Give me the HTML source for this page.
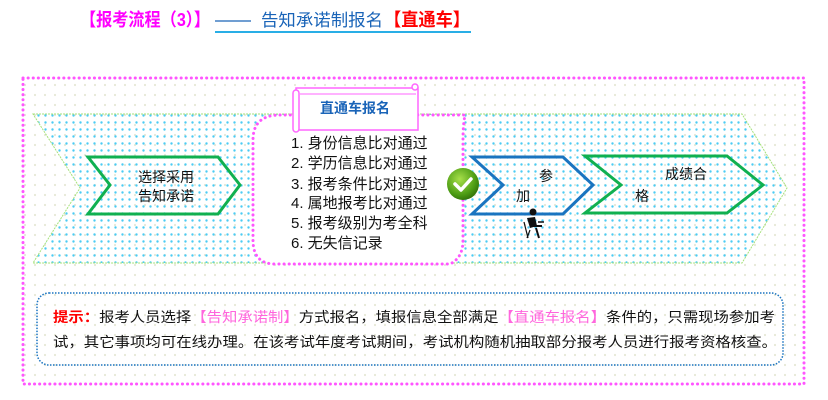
<!DOCTYPE html>
<html><head><meta charset="utf-8"><style>
html,body{margin:0;padding:0;background:#fff;}
svg{display:block;font-family:"Liberation Sans","Noto Sans CJK SC",sans-serif;}
</style></head><body>
<svg width="828" height="400" viewBox="0 0 828 400" xmlns="http://www.w3.org/2000/svg">
<defs>
<pattern id="bg" width="10" height="10" patternUnits="userSpaceOnUse"><circle cx="5" cy="5" r="1.1" fill="#e6e8d6"/></pattern>
<pattern id="cy" width="7" height="7" patternUnits="userSpaceOnUse"><circle cx="3.5" cy="3.5" r="1.2" fill="#4ccbf3"/></pattern>
<radialGradient id="gb" cx="0.4" cy="0.35" r="0.7"><stop offset="0" stop-color="#a8e04a"/><stop offset="0.7" stop-color="#4c9c14"/><stop offset="1" stop-color="#2f6e08"/></radialGradient>
</defs>

<!-- title -->
<text x="80" y="26" font-size="18" font-weight="bold" fill="#ff00ff" textLength="130" lengthAdjust="spacingAndGlyphs">【报考流程（3）】</text>
<line x1="215" y1="21" x2="251" y2="21" stroke="#1a64b8" stroke-width="1.3"/>
<text x="261" y="26" font-size="17" fill="#1a64b8" textLength="122" lengthAdjust="spacingAndGlyphs">告知承诺制报名</text>
<text x="384" y="26" font-size="18" font-weight="bold" fill="#ff0000" textLength="86" lengthAdjust="spacingAndGlyphs">【直通车】</text>
<line x1="215" y1="32" x2="471" y2="32" stroke="#29aee6" stroke-width="2"/>

<!-- outer box -->
<rect x="23" y="78" width="781" height="306" fill="url(#bg)"/>
<rect x="23" y="78" width="781" height="306" fill="none" stroke="#ff55ff" stroke-width="3" stroke-dasharray="0.1 5" stroke-linecap="round"/>

<!-- banner -->
<polygon points="33,114 742,114 787,188 742,263 33,263 80,188" fill="url(#cy)" stroke="#a6e27a" stroke-width="1" stroke-dasharray="2 1"/>

<!-- middle white box -->
<path d="M280,115 L465,115 Q463,125 463,140 L463,240 Q463,258 450,264 L275,264 Q253,264 253,240 L253,140 Q253,115 280,115 Z" fill="#fff"/>
<path d="M280,115 L465,115 Q463,125 463,140 L463,240 Q463,258 450,264 L275,264 Q253,264 253,240 L253,140 Q253,115 280,115 Z" fill="none" stroke="#ff55ff" stroke-width="3" stroke-dasharray="0.1 5" stroke-linecap="round"/>

<!-- scroll title -->
<rect x="296" y="88" width="122" height="42" fill="#fff" stroke="#ff66ff" stroke-width="1.5"/>
<rect x="293" y="90" width="6" height="42" rx="3" fill="#fff" stroke="#ff66ff" stroke-width="1.5"/>
<circle cx="415" cy="87" r="3" fill="#fff" stroke="#ff66ff" stroke-width="1.5"/>
<line x1="300" y1="94" x2="416" y2="94" stroke="#ff66ff" stroke-width="1"/>
<text x="355" y="113" font-size="14" font-weight="bold" fill="#1a64b8" text-anchor="middle">直通车报名</text>

<!-- list -->
<g font-size="15" fill="#111">
<text x="291" y="148">1. 身份信息比对通过</text>
<text x="291" y="168">2. 学历信息比对通过</text>
<text x="291" y="189">3. 报考条件比对通过</text>
<text x="291" y="208">4. 属地报考比对通过</text>
<text x="291" y="228">5. 报考级别为考全科</text>
<text x="291" y="248">6. 无失信记录</text>
</g>

<!-- chevron 1 -->
<polygon points="88,157 218,157 240,185 218,214 88,214 110,185" fill="none" stroke="#10b050" stroke-width="3"/>
<text x="138" y="182" font-size="14" fill="#111">选择采用</text>
<text x="138" y="201" font-size="14" fill="#111">告知承诺</text>

<!-- check -->
<circle cx="463" cy="184" r="16" fill="url(#gb)"/>
<path d="M455,184 L461,190 L471,179" fill="none" stroke="#fff" stroke-width="3.5" stroke-linecap="round" stroke-linejoin="round"/>

<!-- chevron blue -->
<polygon points="472,157 563,157 593,185 563,214 472,214 503,185" fill="none" stroke="#1a74c0" stroke-width="3"/>
<text x="539" y="181" font-size="14" fill="#111">参</text>
<text x="516" y="201" font-size="14" fill="#111">加</text>
<!-- person -->
<g fill="#111" stroke="#111">
<circle cx="533" cy="212" r="3.5" stroke="none"/>
<path d="M527,218 L535,217 L537,226 L530,228 Z" stroke="none"/>
<line x1="530" y1="226" x2="542" y2="226" stroke-width="2"/>
<line x1="536" y1="228" x2="539" y2="238" stroke-width="2"/>
<line x1="524" y1="222" x2="528" y2="238" stroke-width="1.2"/>
<line x1="530" y1="230" x2="527" y2="238" stroke-width="1.2"/>
<line x1="538" y1="222" x2="544" y2="222" stroke-width="1.5"/>
</g>

<!-- chevron 2 -->
<polygon points="585,156 727,156 763,185 727,213 585,213 621,185" fill="none" stroke="#10b050" stroke-width="3"/>
<text x="665" y="179" font-size="14" fill="#111">成绩合</text>
<text x="635" y="201" font-size="14" fill="#111">格</text>

<!-- tip box -->
<rect x="37" y="293" width="746" height="72" rx="12" fill="none" stroke="#1a74c0" stroke-width="1.5" stroke-dasharray="1.5 1.5"/>
<text x="53" y="322" font-size="14" fill="#111" textLength="722" lengthAdjust="spacingAndGlyphs"><tspan fill="#ff0000" font-weight="bold">提示：</tspan>报考人员选择<tspan fill="#ff66dd">【告知承诺制】</tspan>方式报名，填报信息全部满足<tspan fill="#ff66dd">【直通车报名】</tspan>条件的，只需现场参加考</text>
<text x="53" y="347" font-size="14" fill="#111" textLength="724" lengthAdjust="spacingAndGlyphs">试，其它事项均可在线办理。在该考试年度考试期间，考试机构随机抽取部分报考人员进行报考资格核查。</text>
</svg>
</body></html>
